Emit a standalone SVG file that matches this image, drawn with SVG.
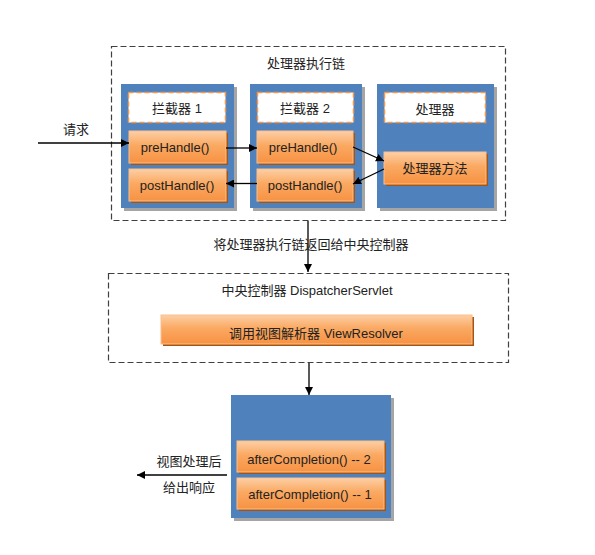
<svg xmlns="http://www.w3.org/2000/svg" width="595" height="555" viewBox="0 0 595 555">
<defs>
<linearGradient id="og" x1="0" y1="0" x2="0" y2="1">
<stop offset="0" stop-color="#fdcfa6"/>
<stop offset="0.45" stop-color="#faa962"/>
<stop offset="1" stop-color="#f79243"/>
</linearGradient>
<marker id="ah" viewBox="0 0 10 10" refX="10" refY="5" markerWidth="8" markerHeight="8" markerUnits="userSpaceOnUse" orient="auto">
<path d="M0,0 L10,5 L0,10 z" fill="#000"/>
</marker>
<style>
text{font-family:"Liberation Sans","Noto Sans CJK SC",sans-serif;font-size:13px;fill:#222;}
.c{text-anchor:middle;}
.dash{fill:none;stroke:#404040;stroke-width:1.2;stroke-dasharray:6,3;}
.blue{fill:#4f81bd;}
.bsh{fill:#a5a5a5;}
.wbox{fill:#fff;stroke:#f79646;stroke-width:1.5;stroke-dasharray:5,3;}
.ob{fill:url(#og);stroke:#fbbf8c;stroke-width:1;}
.osh{fill:#a9530c;}
.ln{stroke:#000;stroke-width:1.3;fill:none;marker-end:url(#ah);}
</style>
</defs>
<rect width="595" height="555" fill="#fff"/>

<g id="chain">
<rect class="dash" x="111.5" y="46.5" width="394" height="174"/>
<text class="c" x="306" y="68">处理器执行链</text>
</g>

<g id="interceptor1">
<rect class="bsh" x="124" y="87" width="113" height="124"/>
<rect class="blue" x="121" y="84" width="113" height="124"/>
<rect class="wbox" x="128.5" y="92.5" width="97" height="30"/>
<text class="c" x="177" y="113">拦截器 1</text>
</g>
<g id="preHandle1">
<rect class="osh" x="131" y="133" width="97" height="32"/>
<rect class="ob" x="129" y="131" width="97" height="32"/>
<text class="c" x="175" y="151.5">preHandle()</text>
</g>
<g id="postHandle1">
<rect class="osh" x="131" y="171" width="97" height="32"/>
<rect class="ob" x="129" y="169" width="97" height="32"/>
<text class="c" x="177" y="190">postHandle()</text>
</g>

<g id="interceptor2">
<rect class="bsh" x="253" y="87" width="112" height="124"/>
<rect class="blue" x="250" y="84" width="112" height="124"/>
<rect class="wbox" x="257.5" y="92.5" width="96" height="30"/>
<text class="c" x="305" y="113">拦截器 2</text>
</g>
<g id="preHandle2">
<rect class="osh" x="259" y="133" width="96" height="32"/>
<rect class="ob" x="257" y="131" width="96" height="32"/>
<text class="c" x="303" y="151.5">preHandle()</text>
</g>
<g id="postHandle2">
<rect class="osh" x="259" y="171" width="96" height="32"/>
<rect class="ob" x="257" y="169" width="96" height="32"/>
<text class="c" x="305" y="190">postHandle()</text>
</g>

<g id="handler">
<rect class="bsh" x="380" y="87" width="117" height="124"/>
<rect class="blue" x="377" y="84" width="117" height="124"/>
<rect class="wbox" x="384.5" y="92.5" width="101" height="30"/>
<text class="c" x="435" y="113.5">处理器</text>
</g>
<g id="handlerMethod">
<rect class="osh" x="386" y="154" width="102" height="32"/>
<rect class="ob" x="384" y="152" width="102" height="32"/>
<text class="c" x="435" y="173">处理器方法</text>
</g>

<g id="dispatcher">
<rect class="dash" x="108.5" y="273.5" width="400" height="89"/>
<text class="c" x="307" y="295">中央控制器 DispatcherServlet</text>
</g>
<g id="viewResolver">
<rect class="osh" x="163" y="317" width="311" height="29"/>
<rect class="ob" x="161" y="315" width="311" height="29"/>
<text class="c" x="316" y="338">调用视图解析器 ViewResolver</text>
</g>

<g id="completion">
<rect class="bsh" x="234" y="398" width="160" height="123"/>
<rect class="blue" x="231" y="395" width="160" height="123"/>
</g>
<g id="afterCompletion2">
<rect class="osh" x="239" y="443" width="147" height="31"/>
<rect class="ob" x="237" y="441" width="147" height="31"/>
<text class="c" x="309" y="463.5">afterCompletion() -- 2</text>
</g>
<g id="afterCompletion1">
<rect class="osh" x="239" y="480" width="147" height="31"/>
<rect class="ob" x="237" y="478" width="147" height="31"/>
<text class="c" x="310" y="498.5">afterCompletion() -- 1</text>
</g>

<g id="connectors">
<line class="ln" x1="38" y1="143" x2="129" y2="143"/>
<text class="c" x="76" y="134">请求</text>
<line class="ln" x1="226" y1="148" x2="257" y2="148"/>
<line class="ln" x1="353" y1="147" x2="384" y2="161"/>
<line class="ln" x1="384" y1="169" x2="353" y2="184"/>
<line class="ln" x1="257" y1="183.5" x2="226" y2="183.5"/>
<line class="ln" x1="308" y1="221" x2="308" y2="272"/>
<text class="c" x="311" y="249">将处理器执行链返回给中央控制器</text>
<line class="ln" x1="309" y1="363" x2="309" y2="395"/>
<line class="ln" x1="227" y1="475" x2="137" y2="475"/>
<text class="c" x="189" y="466">视图处理后</text>
<text class="c" x="189" y="492">给出响应</text>
</g>
</svg>
